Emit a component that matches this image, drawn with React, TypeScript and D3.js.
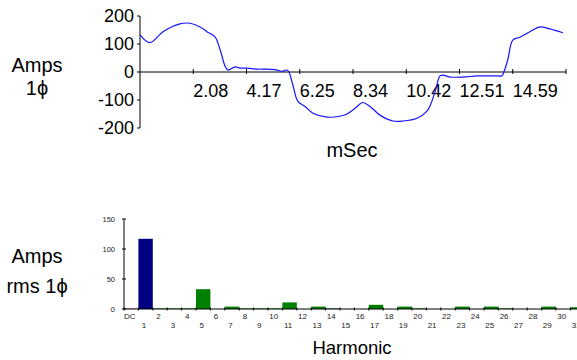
import { scaleLinear, scaleBand, line, curveCatmullRom } from 'd3'

// waveform: time (ms) / amps
const waveTime = [0, 0.39, 0.9, 1.56, 1.96, 2.35, 2.62, 2.93, 3.13, 3.33, 3.44, 3.72, 3.91, 4.19, 4.58, 4.97, 5.36, 5.56, 5.75, 5.83, 5.99, 6.18, 6.46, 6.77, 7.32, 7.82, 8.1, 8.41, 8.72, 9.0, 9.39, 9.9, 10.29, 10.84, 11.23, 11.42, 11.58, 11.74, 11.85, 12.13, 12.64, 13.18, 13.69, 14.01, 14.16, 14.28, 14.4, 14.59, 14.87, 15.26, 15.65, 16.04, 16.55]
const waveAmps = [133, 105, 144, 172, 174, 161, 144, 126, 81, 21, 7, 18, 14, 14, 10, 10, 7, 2, 7, 0, -49, -105, -123, -147, -161, -158, -150, -130, -109, -123, -154, -175, -175, -165, -140, -105, -60, -14, -11, -18, -18, -14, -14, -14, -14, 10, 46, 114, 124, 144, 161, 154, 140]
const timeTicks = [2.084, 4.168, 6.252, 8.336, 10.42, 12.504, 14.588, 16.672]
const timeLabels = ['2.08', '4.17', '6.25', '8.34', '10.42', '12.51', '14.59', '']
const ampTicks = [200, 100, 0, -100, -200]

// harmonic spectrum
const harmonics = ['DC', '1', '2', '3', '4', '5', '6', '7', '8', '9', '10', '11', '12', '13', '14', '15', '16', '17', '18', '19', '20', '21', '22', '23', '24', '25', '26', '27', '28', '29', '30', '31']
const harmonicAmps = [1, 117, 1, 1, 1, 33, 0, 4, 1, 1, 1, 11, 0, 4, 1, 0, 0, 7, 0, 4, 1, 0, 0, 4, 0, 4, 1, 0, 0, 4, 0, 3]
const rmsTicks = [0, 50, 100, 150]

const FONT = '"Liberation Sans", Arial, sans-serif'

export default function App() {
  const x = scaleLinear().domain([0, 16.672]).range([140, 566])
  const y = scaleLinear().domain([-200, 200]).range([128, 16])
  const wave = line<number>()
    .x((_, i) => x(waveTime[i]))
    .y((d) => y(d))
    .curve(curveCatmullRom)

  const xb = scaleBand().domain(harmonics).range([124, 124 + 14.4 * harmonics.length]).padding(0)
  const yb = scaleLinear().domain([0, 150]).range([309, 219])
  const bw = xb.bandwidth()
  const barColor = (h: string) => (h === 'DC' ? '#c00000' : h === '1' ? '#000080' : '#008000')

  return (
    <svg width={577} height={360} style={{ position: 'absolute', left: 0, top: 0, background: '#fff' }} fontFamily={FONT}>
      {/* top chart */}
      <text x={37} y={72} fontSize={20} textAnchor="middle">Amps</text>
      <text x={37} y={95} fontSize={20} textAnchor="middle">1ϕ</text>
      <line x1={140} x2={140} y1={y(200)} y2={y(-200)} stroke="#000" />
      {ampTicks.map((t) => (
        <g key={t}>
          <line x1={137} x2={140} y1={y(t)} y2={y(t)} stroke="#000" />
          <text x={134} y={y(t)} dy="0.35em" fontSize={18} textAnchor="end">{t}</text>
        </g>
      ))}
      <line x1={140} x2={x(16.672)} y1={y(0)} y2={y(0)} stroke="#000" />
      {timeTicks.map((t, i) => (
        <g key={t}>
          <line x1={x(t)} x2={x(t)} y1={y(0) - 3} y2={y(0) + 2} stroke="#000" />
          <text x={x(t)} y={97} fontSize={18}>{timeLabels[i]}</text>
        </g>
      ))}
      <path d={wave(waveAmps) ?? ''} fill="none" stroke="#1515ff" strokeWidth={1.2} />
      <text x={352} y={157} fontSize={20} textAnchor="middle">mSec</text>

      {/* bottom chart */}
      <text x={37} y={263} fontSize={20} textAnchor="middle">Amps</text>
      <text x={37} y={293} fontSize={20} textAnchor="middle">rms 1ϕ</text>
      {harmonics.map((h, i) => (
        <rect
          key={h}
          x={xb(h)}
          y={yb(harmonicAmps[i])}
          width={bw}
          height={yb(0) - yb(harmonicAmps[i])}
          fill={barColor(h)}
          opacity={h === 'DC' ? 0.6 : 1}
        />
      ))}
      <line x1={124} x2={124} y1={yb(150)} y2={yb(0)} stroke="#000" />
      {rmsTicks.map((t) => (
        <g key={t}>
          <line x1={122} x2={126} y1={yb(t)} y2={yb(t)} stroke="#000" />
          <text x={115} y={yb(t)} dy="0.35em" fontSize={7.5} textAnchor="end" fill="#222">{t}</text>
        </g>
      ))}
      <line x1={124} x2={577} y1={yb(0)} y2={yb(0)} stroke="#000" />
      {harmonics.map((h, i) => (
        <g key={h}>
          <line x1={xb(h)} x2={xb(h)} y1={yb(0) - 1.5} y2={yb(0) + 1.5} stroke="#000" />
          <text
            x={(xb(h) ?? 0) + bw / 2 - 1.5}
            y={i % 2 === 0 ? 319 : 328}
            fontSize={8}
            textAnchor="middle"
            fill="#222"
          >
            {h}
          </text>
        </g>
      ))}
      <text x={352} y={354} fontSize={18.5} textAnchor="middle">Harmonic</text>
    </svg>
  )
}
